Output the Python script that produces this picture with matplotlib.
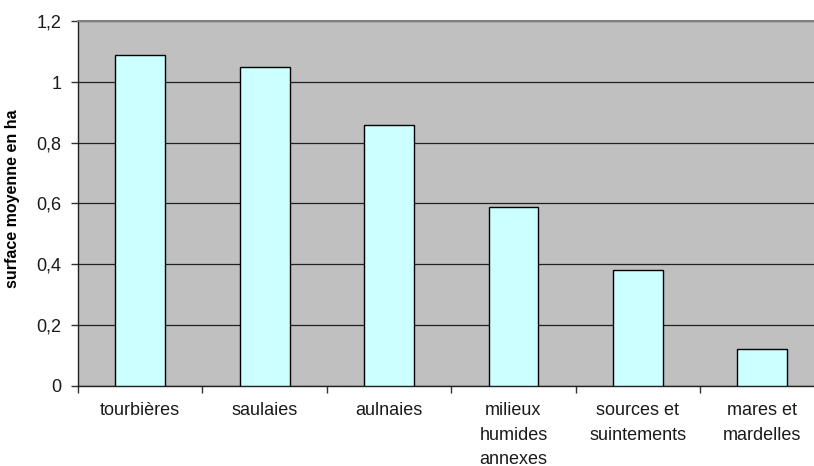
import matplotlib
matplotlib.use("Agg")
import matplotlib.pyplot as plt
import numpy as np
from matplotlib.ticker import FixedLocator, FuncFormatter

# Surface moyenne par type de zone humide (ha)
categories = ["tourbières", "saulaies", "aulnaies",
              "milieux\nhumides\nannexes", "sources et\nsuintements", "mares et\nmardelles"]
surface_ha = [1.09, 1.05, 0.86, 0.59, 0.38, 0.12]
y_ticks = [0, 0.2, 0.4, 0.6, 0.8, 1.0, 1.2]

plt.rcParams["font.family"] = ["Liberation Sans", "DejaVu Sans"]

fig = plt.figure(figsize=(8.14, 4.66), dpi=100)
# axes run a little past the right border, as in the exported spreadsheet chart
ax = fig.add_axes([78 / 814, (466 - 385.7) / 466, 746.5 / 814, 364.4 / 466])
ax.set_facecolor("#C0C0C0")

x = np.arange(len(categories))
ax.bar(x, surface_ha, width=0.4, color="#CCFFFF", edgecolor="black", linewidth=1.0, zorder=3)

ax.set_xlim(-0.5, len(categories) - 0.5)
ax.set_ylim(0, 1.2)

ax.yaxis.set_major_locator(FixedLocator(y_ticks))
ax.yaxis.set_major_formatter(FuncFormatter(lambda v, _: f"{v:g}".replace(".", ",")))
ax.grid(axis="y", color="#202020", linewidth=0.9, zorder=1)

# category boundaries get the tick marks, labels sit in the middle
ax.xaxis.set_major_locator(FixedLocator(np.arange(-0.5, len(categories), 1.0)))
ax.xaxis.set_major_formatter(FuncFormatter(lambda v, _: ""))
ax.xaxis.set_minor_locator(FixedLocator(x))
ax.set_xticklabels(categories, minor=True, linespacing=1.55)
ax.tick_params(axis="x", which="minor", length=0, pad=12, labelsize=13, colors="#1a1a1a")
ax.tick_params(axis="x", which="major", length=5, width=1, color="#333333")
ax.tick_params(axis="y", length=5, width=1, color="#333333", labelsize=13, labelcolor="#1a1a1a", pad=7)

for side in ("left", "bottom"):
    ax.spines[side].set_color("#202020")
    ax.spines[side].set_linewidth(1.0)
ax.spines["top"].set_color("#808080")
ax.spines["top"].set_linewidth(1.5)
ax.spines["right"].set_visible(False)

ax.set_ylabel("surface moyenne en ha", fontsize=11.5, fontweight="bold")
ax.yaxis.set_label_coords(-58 / 746.5, (385.7 - 198.5) / 364.4)

fig.savefig("out.png", dpi=100)
